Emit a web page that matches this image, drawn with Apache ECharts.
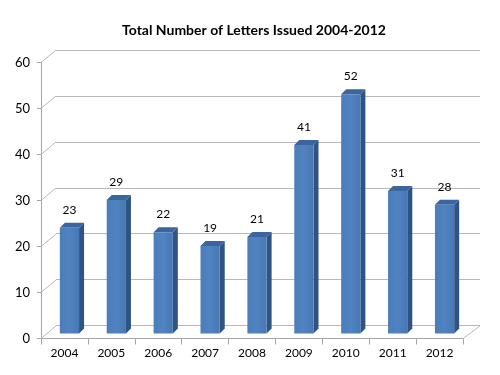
<!DOCTYPE html>
<html><head><meta charset="utf-8">
<script src="https://cdn.jsdelivr.net/npm/echarts@6/dist/echarts.min.js"></script>
<style>html,body{margin:0;padding:0;background:#fff}#c{width:500px;height:375px}</style>
</head><body><div id="c"></div>
<script>
const categories = ['2004','2005','2006','2007','2008','2009','2010','2011','2012'];
const letters = [23, 29, 22, 19, 21, 41, 52, 31, 28];
const yTicks = [0, 10, 20, 30, 40, 50, 60];
const titleText = 'Total Number of Letters Issued 2004-2012';

const FONT = 'Lato';
const DX = 15, DY = -12.5;   // back wall offset
const BDX = 5, BDY = -5;     // bar placement depth
const BD = 5;                // bar depth

const chart = echarts.init(document.getElementById('c'), null, {renderer: 'canvas'});

function barItem(params, api) {
  const i = api.value(0), v = api.value(1);
  const top = api.coord([i, v]);
  const base = api.coord([i, 0]);
  const w = api.size([1, 0])[0] * 0.41;
  const cx = top[0] + BDX;
  const x0 = cx - w / 2, x1 = cx + w / 2;
  const yt = top[1] + BDY, yb = base[1] + BDY;
  return {
    type: 'group',
    children: [
      {type: 'polygon', shape: {points: [[x1, yt], [x1 + BD, yt - BD], [x1 + BD, yb - BD], [x1, yb]]},
       style: {fill: '#2F5483'}},
      {type: 'polygon', shape: {points: [[x0, yt], [x0 + BD, yt - BD], [x1 + BD, yt - BD], [x1, yt]]},
       style: {fill: '#3A659D'}},
      {type: 'rect', shape: {x: x0, y: yt, width: w, height: yb - yt},
       style: {fill: new echarts.graphic.LinearGradient(0, 0, 1, 0, [
         {offset: 0, color: '#4A7DBA'}, {offset: 0.5, color: '#5083C0'}, {offset: 1, color: '#4878B4'}])}},
      {type: 'text', style: {text: String(v), x: cx, y: yt - 18, align: 'center', verticalAlign: 'middle',
        font: '12px ' + FONT, fill: '#000'}}
    ]
  };
}

function diagItem(params, api) {
  const v = api.value(1);
  const p = api.coord([0, v]);
  const x = params.coordSys.x;
  return {type: 'line', shape: {x1: x, y1: p[1], x2: x + DX, y2: p[1] + DY},
    style: {stroke: '#B8B8B8', lineWidth: 1}};
}

function floorRight(params, api) {
  const cs = params.coordSys;
  const x = cs.x + cs.width, y = cs.y + cs.height;
  return {type: 'line', shape: {x1: x, y1: y, x2: x + DX + 2, y2: y + DY},
    style: {stroke: '#B8B8B8', lineWidth: 1}};
}

chart.setOption({
  animation: false,
  title: {text: titleText, left: 249, top: 18, textAlign: 'center',
    textStyle: {fontFamily: FONT, fontWeight: 'bold', fontSize: 14, color: '#000'}},
  grid: [
    {left: 41, right: 37, top: 62.5, bottom: 36.5},
    {left: 56, right: 20, top: 50, bottom: 49.5}
  ],
  xAxis: [
    {type: 'category', gridIndex: 0, data: categories,
     axisLine: {lineStyle: {color: '#A6A6A6'}},
     axisTick: {show: true, alignWithLabel: false, length: 6, lineStyle: {color: '#A6A6A6'}},
     axisLabel: {fontFamily: FONT, fontSize: 12, color: '#000', margin: 9}},
    {type: 'category', gridIndex: 1, data: categories, show: false}
  ],
  yAxis: [
    {type: 'value', gridIndex: 0, min: 0, max: 60, interval: 10,
     axisLine: {show: true, lineStyle: {color: '#A6A6A6'}},
     axisTick: {show: true, length: 4, lineStyle: {color: '#A6A6A6'}},
     splitLine: {show: false},
     axisLabel: {fontFamily: FONT, fontSize: 13, color: '#000', margin: 11}},
    {type: 'value', gridIndex: 1, min: 0, max: 60, interval: 10,
     axisLine: {show: false}, axisTick: {show: false}, axisLabel: {show: false},
     splitLine: {show: true, lineStyle: {color: '#B8B8B8'}}}
  ],
  series: [
    {type: 'custom', xAxisIndex: 0, yAxisIndex: 0, renderItem: diagItem,
     data: yTicks.map(t => [0, t]), silent: true, z: 1},
    {type: 'custom', xAxisIndex: 0, yAxisIndex: 0, renderItem: floorRight,
     data: [[0, 0]], silent: true, z: 1},
    {type: 'custom', xAxisIndex: 0, yAxisIndex: 0, renderItem: barItem,
     data: letters.map((v, i) => [i, v]), z: 5}
  ]
});
</script></body></html>
